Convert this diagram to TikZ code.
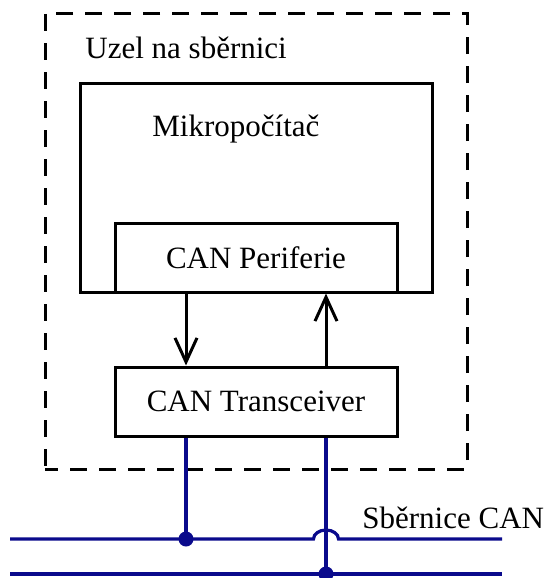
\documentclass[tikz,border=0pt]{standalone}
\usepackage{fontspec}
\setmainfont{Liberation Serif}
\usetikzlibrary{positioning,arrows.meta}
\definecolor{sbernice}{RGB}{10,10,140}
\newcommand{\UzelFont}{\fontsize{15.5}{18}\selectfont}

\begin{document}
\begin{tikzpicture}[x=0.5pt,y=-0.5pt,
		box/.style={draw, line width=1.5pt, inner sep=0pt, minimum width=141pt, minimum height=34.5pt, font=\UzelFont},
		popis/.style={inner sep=0pt, font=\UzelFont},
		sipka/.style={line width=1.5pt, -{Straight Barb[length=12pt, width=11pt, line width=1.5pt]}},
		bus/.style={draw=sbernice, line width=1.6pt},
		spoj/.style={circle, fill=sbernice, inner sep=0pt, minimum size=7.5pt}]
	\useasboundingbox (0,0) rectangle (544,578);
	% uzel na sbernici
	\node[draw, line width=1.5pt, dash pattern=on 8.5pt off 6pt, dash phase=2pt, inner sep=0pt, minimum width=211pt, minimum height=228pt] (uzel) at (256,241) {};
	\node[popis, anchor=base west] (uzelText) at (85,58) {Uzel na sběrnici};
	% mikropocitac a periferie
	\node[box, minimum width=176pt, minimum height=104.5pt] (mikro) at (256,187.5) {};
	\node[popis, anchor=base west] (mikroText) at (152,136) {Mikropočítač};
	\node[box, anchor=south] (periferie) at (mikro.south) {CAN Periferie};
	\node[box, below=36pt of periferie] (transceiver) {CAN Transceiver};
	\draw[sipka] ([xshift=-35pt]periferie.south) -- ([xshift=-35pt]transceiver.north);
	\draw[sipka] ([xshift=35pt]transceiver.north) -- ([xshift=35pt]periferie.south);
	% sbernice CAN
	\coordinate (busAL) at (10,539);
	\coordinate (busAR) at (502,539);
	\coordinate (busBL) at (10,574);
	\coordinate (busBR) at (502,574);
	\coordinate (hop) at (313.5,539);
	\node[spoj] (spoj1) at (186,539) {};
	\node[spoj] (spoj2) at (326,574) {};
	\draw[bus] (busAL) -- (hop) arc[start angle=180, end angle=0, x radius=6.25pt, y radius=4.5pt] -- (busAR);
	\draw[bus] (busBL) -- (busBR);
	\draw[bus] ([xshift=-35pt]transceiver.south) -- (spoj1.center);
	\draw[bus] ([xshift=35pt]transceiver.south) -- (spoj2.center);
	\node[popis, anchor=base west] (busText) at (362,528) {Sběrnice CAN};
\end{tikzpicture}
\end{document}
